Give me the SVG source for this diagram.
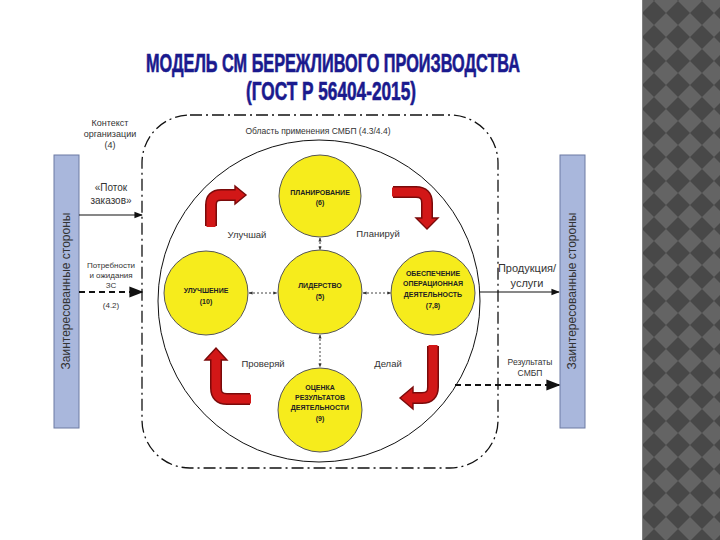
<svg xmlns="http://www.w3.org/2000/svg" width="720" height="540" viewBox="0 0 720 540">
<defs>
<pattern id="chk" x="642" y="1" width="24" height="24" patternUnits="userSpaceOnUse">
<rect width="24" height="24" fill="#646464"/>
<polygon points="12,0 24,12 12,24 0,12" fill="#484848"/>
</pattern>
<marker id="ah" viewBox="0 0 10 10" refX="9" refY="5" markerWidth="7" markerHeight="7" orient="auto-start-reverse">
<path d="M0,1 L10,5 L0,9 z" fill="#111"/>
</marker>
<marker id="sm" viewBox="0 0 10 10" refX="9" refY="5" markerWidth="4" markerHeight="4" orient="auto-start-reverse">
<path d="M0,1 L10,5 L0,9 z" fill="#333"/>
</marker>
</defs>
<style>
.t{font-family:"Liberation Sans",Arial,sans-serif;fill:#333;text-anchor:middle}
.b{font-family:"Liberation Sans",Arial,sans-serif;font-weight:bold;font-size:7px;fill:#222;text-anchor:middle}
.title{font-family:"Liberation Sans",Arial,sans-serif;font-weight:bold;fill:#1a1a8e;stroke:#1a1a8e;stroke-width:0.6;text-anchor:middle}
.node{fill:#f6ec1c;stroke:#555;stroke-width:1}
.bar{fill:#a9b7dc;stroke:#6d7ba3;stroke-width:1}
.dd{stroke:#444;stroke-width:1;stroke-dasharray:2 2;fill:none;marker-start:url(#sm);marker-end:url(#sm)}
.sh1{fill:none;stroke:#7a0a0a;stroke-width:12;stroke-linejoin:round}
.sh2{fill:none;stroke:#d21717;stroke-width:9;stroke-linejoin:round}
.hd{fill:#d21717;stroke:#7a0a0a;stroke-width:1.4;stroke-linejoin:miter}
</style>
<rect width="720" height="540" fill="#ffffff"/>
<rect x="642" y="0" width="78" height="540" fill="url(#chk)"/>
<line x1="642.5" y1="0" x2="642.5" y2="540" stroke="#808080" stroke-width="1"/>

<text class="title" x="333" y="72" font-size="25" textLength="374" lengthAdjust="spacingAndGlyphs">МОДЕЛЬ СМ БЕРЕЖЛИВОГО ПРОИЗВОДСТВА</text>
<text class="title" x="331" y="100" font-size="25" textLength="170" lengthAdjust="spacingAndGlyphs">(ГОСТ Р 56404-2015)</text>

<g id="frame">
<rect x="142" y="115" width="356" height="353" rx="48" ry="48" fill="none" stroke="#111" stroke-width="1.3" stroke-dasharray="12 4 2 4"/>
<text class="t" x="318" y="134" font-size="8.5">Область применения  СМБП (4.3/4.4)</text>
<circle cx="319" cy="301" r="161" fill="none" stroke="#111" stroke-width="1"/>
</g>

<g id="stakeholders-left">
<rect class="bar" x="54" y="155" width="25" height="273"/>
<text class="t" transform="translate(70,291) rotate(-90)" font-size="12">Заинтересованные стороны</text>
</g>
<g id="stakeholders-right">
<rect class="bar" x="560" y="155" width="25" height="273"/>
<text class="t" transform="translate(576,291) rotate(-90)" font-size="12">Заинтересованные стороны</text>
</g>

<g id="connectors">
<line x1="79" y1="215" x2="142" y2="215" stroke="#111" stroke-width="1.2" marker-end="url(#ah)"/>
<line x1="79" y1="292" x2="142" y2="292" stroke="#111" stroke-width="2" stroke-dasharray="6 4" marker-end="url(#ah)"/>
<line x1="480" y1="292" x2="559" y2="292" stroke="#111" stroke-width="1.2" marker-end="url(#ah)"/>
<line x1="455" y1="385" x2="559" y2="385" stroke="#111" stroke-width="2" stroke-dasharray="6 4" marker-end="url(#ah)"/>
<line class="dd" x1="320" y1="238" x2="320" y2="250"/>
<line class="dd" x1="249" y1="293" x2="277" y2="293"/>
<line class="dd" x1="363" y1="293" x2="391" y2="293"/>
<line class="dd" x1="320" y1="335" x2="320" y2="367"/>
</g>

<g id="labels">
<text class="t" x="110" y="126" font-size="9">Контекст</text>
<text class="t" x="110" y="137" font-size="9">организации</text>
<text class="t" x="110" y="148" font-size="9">(4)</text>
<text class="t" x="111" y="191" font-size="10">«Поток</text>
<text class="t" x="111" y="204" font-size="10">заказов»</text>
<text class="t" x="111" y="268" font-size="8">Потребности</text>
<text class="t" x="111" y="278" font-size="8">и ожидания</text>
<text class="t" x="111" y="288" font-size="8">ЗС</text>
<text class="t" x="111" y="308" font-size="8">(4.2)</text>
<text class="t" x="527" y="272" font-size="11">Продукция/</text>
<text class="t" x="527" y="287" font-size="11">услуги</text>
<text class="t" x="530" y="365" font-size="8.5">Результаты</text>
<text class="t" x="530" y="376" font-size="8.5">СМБП</text>
<text class="t" x="247" y="238" font-size="9.5" fill="#222">Улучшай</text>
<text class="t" x="378" y="237" font-size="9.5">Планируй</text>
<text class="t" x="263" y="367" font-size="9.5">Проверяй</text>
<text class="t" x="388" y="367" font-size="9.5">Делай</text>
</g>

<g id="arrows-cycle">
<path class="sh1" d="M211,226 V205 Q211,195 221,195 H237"/>
<polygon class="hd" points="235,186 246,195 235,204"/>
<path class="sh2" d="M211,227 V205 Q211,195 221,195 H238"/>

<path class="sh1" d="M393,192 H416 Q427,192 427,203 V219"/>
<polygon class="hd" points="416,218 438,218 427,229"/>
<path class="sh2" d="M392,192 H416 Q427,192 427,203 V220"/>

<path class="sh1" d="M216,358 V388 Q216,399 227,399 H250"/>
<polygon class="hd" points="205,360 216,348 227,360"/>
<path class="sh2" d="M216,359 V388 Q216,399 227,399 H251"/>

<path class="sh1" d="M433,346 V387 Q433,398 422,398 H412"/>
<polygon class="hd" points="413,387 400,398 413,409"/>
<path class="sh2" d="M433,345 V387 Q433,398 422,398 H411"/>
</g>

<g id="planning">
<circle class="node" cx="320" cy="196" r="41"/>
<text class="b" x="320" y="195">ПЛАНИРОВАНИЕ</text>
<text class="b" x="320" y="205">(6)</text>
</g>
<g id="leadership">
<circle class="node" cx="320" cy="292" r="42"/>
<text class="b" x="320" y="288">ЛИДЕРСТВО</text>
<text class="b" x="320" y="299">(5)</text>
</g>
<g id="improvement">
<circle class="node" cx="206" cy="293" r="42"/>
<text class="b" x="206" y="293">УЛУЧШЕНИЕ</text>
<text class="b" x="206" y="304">(10)</text>
</g>
<g id="operations">
<circle class="node" cx="433" cy="293" r="42"/>
<text class="b" x="433" y="276" font-size="6.8">ОБЕСПЕЧЕНИЕ</text>
<text class="b" x="433" y="286" font-size="6.8">ОПЕРАЦИОННАЯ</text>
<text class="b" x="433" y="297" font-size="6.8">ДЕЯТЕЛЬНОСТЬ</text>
<text class="b" x="433" y="308" font-size="6.8">(7,8)</text>
</g>
<g id="evaluation">
<circle class="node" cx="320" cy="410" r="42"/>
<text class="b" x="320" y="390">ОЦЕНКА</text>
<text class="b" x="320" y="400">РЕЗУЛЬТАТОВ</text>
<text class="b" x="320" y="410">ДЕЯТЕЛЬНОСТИ</text>
<text class="b" x="320" y="421">(9)</text>
</g>
</svg>
